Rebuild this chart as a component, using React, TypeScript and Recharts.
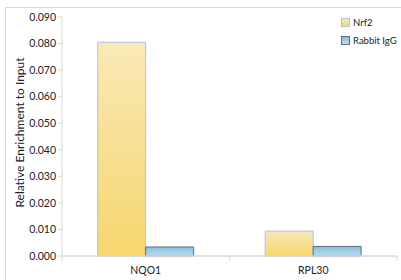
import React from 'react';
import { BarChart, Bar, XAxis, YAxis } from 'recharts';

const categories = ['NQO1', 'RPL30'];
const nrf2Values = [0.0805, 0.0094];
const iggValues = [0.0034, 0.0036];
const yTicks = [0, 0.01, 0.02, 0.03, 0.04, 0.05, 0.06, 0.07, 0.08, 0.09];
const seriesNames = ['Nrf2', 'Rabbit IgG'];

const data = categories.map((c, i) => ({ name: c, nrf2: nrf2Values[i], igg: iggValues[i] }));

const FONT = 'Lato, "Open Sans", sans-serif';
const AXIS = '#d9d9d9';

const XTick = (props: any) => {
  const { x, y, payload, index, width, visibleTicksCount } = props;
  const half = width / visibleTicksCount / 2;
  return (
    <g>
      <line x1={x - half} x2={x - half} y1={y - 8} y2={y - 3} stroke={AXIS} />
      {index === visibleTicksCount - 1 && (
        <line x1={x + half} x2={x + half} y1={y - 8} y2={y - 3} stroke={AXIS} />
      )}
      <text x={x} y={y + 10} textAnchor="middle" fontSize={10.5} fontFamily={FONT} fill="#222">
        {payload.value}
      </text>
    </g>
  );
};

const LegendBox = () => (
  <div style={{ position: 'absolute', left: 341, top: 13, fontFamily: FONT, fontSize: 9.5, color: '#222', whiteSpace: 'nowrap' }}>
    <div style={{ display: 'flex', alignItems: 'center', height: 18 }}>
      <span style={{ width: 7, height: 7, background: 'linear-gradient(#f9e9b6,#f5d66e)', border: '1px solid #a9c4e6', marginRight: 3, flexShrink: 0 }} />
      {seriesNames[0]}
    </div>
    <div style={{ display: 'flex', alignItems: 'center', height: 18 }}>
      <span style={{ width: 7, height: 7, background: 'linear-gradient(#86bfe0,#bcdcec)', border: '1px solid #5a6e7a', marginRight: 3, flexShrink: 0 }} />
      {seriesNames[1]}
    </div>
  </div>
);

export default function App() {
  return (
    <div style={{ position: 'absolute', left: 0, top: 0, width: 401, height: 280, background: '#fff', overflow: 'hidden' }}>
      <div style={{ position: 'absolute', left: 5, top: 7, width: 400, height: 280, border: '1px solid #d9d9d9', boxSizing: 'border-box' }} />
      <BarChart
        width={401}
        height={280}
        data={data}
        margin={{ top: 17, right: 4, bottom: 0, left: 0 }}
        barCategoryGap="21.3%"
        barGap={0}
      >
        <defs>
          <linearGradient id="gy" x1="0" y1="0" x2="0" y2="1">
            <stop offset="0%" stopColor="#f9e9b6" />
            <stop offset="100%" stopColor="#f6d66e" />
          </linearGradient>
          <linearGradient id="gb" x1="0" y1="0" x2="0" y2="1">
            <stop offset="0%" stopColor="#86bfe0" />
            <stop offset="100%" stopColor="#bcdcec" />
          </linearGradient>
        </defs>
        <XAxis
          dataKey="name"
          height={24}
          axisLine={{ stroke: AXIS, strokeWidth: 1.5 }}
          tickLine={false}
          tick={<XTick />}
          interval={0}
        />
        <YAxis
          width={62}
          domain={[0, 0.09]}
          ticks={yTicks}
          tickFormatter={(v: number) => v.toFixed(3)}
          axisLine={{ stroke: AXIS }}
          tickLine={{ stroke: AXIS }}
          tickSize={4}
          tick={{ fontSize: 10.5, fontFamily: FONT, fill: '#222' }}
          interval={0}
          label={{ value: 'Relative Enrichment to Input', angle: -90, position: 'center', dx: -11, dy: -4, fontSize: 12, fontFamily: FONT, fill: '#222' }}
        />
        <Bar dataKey="nrf2" name={seriesNames[0]} fill="url(#gy)" stroke="#a9c4e6" strokeWidth={1} isAnimationActive={false} />
        <Bar dataKey="igg" name={seriesNames[1]} fill="url(#gb)" stroke="#5a6e7a" strokeWidth={1} isAnimationActive={false} />
      </BarChart>
      <LegendBox />
    </div>
  );
}
